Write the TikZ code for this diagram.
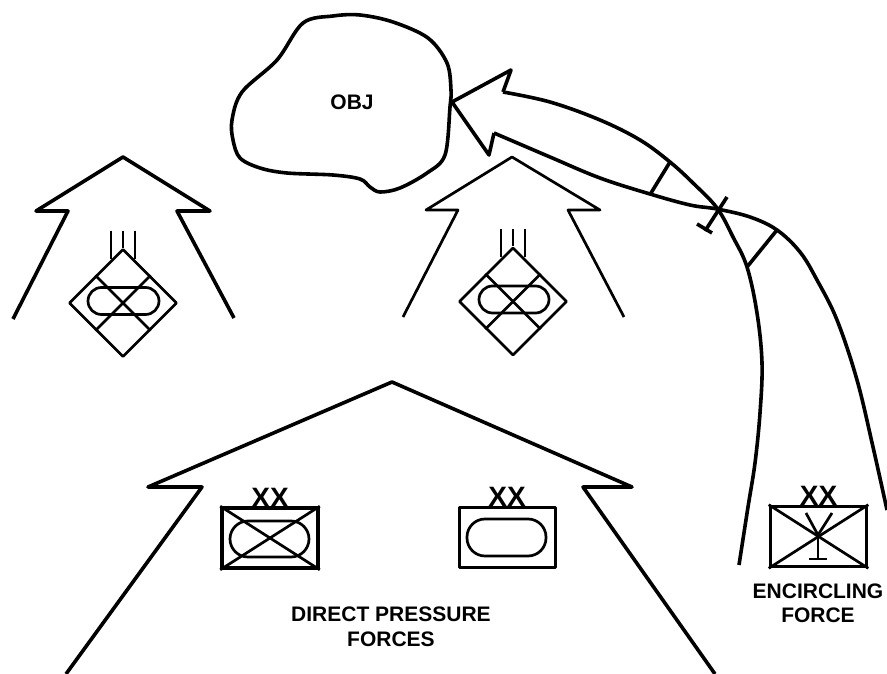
\documentclass[tikz,border=0pt]{standalone}
\usepackage{fontspec}
\setmainfont{Liberation Sans}
\usepackage{tikz}
\usetikzlibrary{calc}
\usetikzlibrary{positioning}
\usetikzlibrary{shapes.geometric}

\begin{document}
\begin{tikzpicture}[x=1pt,y=-1pt,line join=round]
	\tikzstyle{heavy}=[line width=3.6pt]
	\tikzstyle{medium}=[line width=2.7pt]
	\tikzstyle{dia}=[draw,diamond,aspect=1,inner sep=0pt,minimum size=108pt,line width=2.6pt]
	\tikzstyle{unit}=[draw,rectangle,inner sep=0pt,minimum width=96pt,minimum height=60pt,line width=3.6pt]
	\tikzstyle{pill}=[draw,rectangle,inner sep=0pt,line width=2.7pt]
	\tikzstyle{echelon}=[inner sep=0pt,font=\fontsize{28}{28}\selectfont\bfseries]
	\tikzstyle{lab}=[inner sep=0pt,align=center,font=\fontsize{21}{24.5}\selectfont\bfseries]
	\useasboundingbox (0,0) rectangle (887,674);

	% objective
	\draw[heavy] plot[smooth cycle,tension=0.55] coordinates {(303,23) (333,16) (360,15) (393,22) (428,38) (447,63) (451,90) (450,107) (445,155) (427,173) (400,188) (380,192) (370,187) (360,179) (333,175) (287,173) (260,168) (240,158) (233,140) (232,120) (242,92) (277,60)};
	\node[lab] (obj) at (352,102) {OBJ};

	% left brigade
	\draw[heavy] (13,319) -- (68,211) -- (36,211) -- (123,157) -- (210,211) -- (177,211) -- (234,318);
	\node[dia] (dleft) at (123,303) {};
	\node[pill,minimum width=71pt,minimum height=27pt,rounded corners=13.5pt] (pleft) at (123.5,301) {};
	\draw[medium] (dleft.north west) -- (dleft.south east);
	\draw[medium] (dleft.north east) -- (dleft.south west);
	\draw[medium] ($(dleft.north)+(-12,-17)$) -- ($(dleft.north)+(-12,11)$);
	\draw[medium] ($(dleft.north)+(0,-17)$) -- (dleft.north);
	\draw[medium] ($(dleft.north)+(12,-17)$) -- ($(dleft.north)+(12,11)$);

	% centre brigade
	\draw[medium] (403,317) -- (458,210) -- (426,210) -- (512,157) -- (600,210) -- (568,210) -- (624,317);
	\node[dia] (dmid) at (513,301.5) {};
	\node[pill,minimum width=70pt,minimum height=27pt,rounded corners=13.5pt] (pmid) at (514,299.5) {};
	\draw[medium] (dmid.north west) -- (dmid.south east);
	\draw[medium] (dmid.north east) -- (dmid.south west);
	\draw[medium] ($(dmid.north)+(-12,-17)$) -- ($(dmid.north)+(-12,11)$);
	\draw[medium] ($(dmid.north)+(0,-17)$) -- (dmid.north);
	\draw[medium] ($(dmid.north)+(12,-17)$) -- ($(dmid.north)+(12,11)$);

	% direct pressure
	\draw[heavy] (66,674) -- (202,487) -- (148,487) -- (392,382) -- (632,487) -- (583,487) -- (715,674);
	\node[unit] (uleft) at (270,538) {};
	\node[pill,minimum width=79pt,minimum height=36pt,rounded corners=18pt] (pcross) at (269.5,539) {};
	\draw[medium] (uleft.north west) -- (uleft.south east);
	\draw[medium] (uleft.north east) -- (uleft.south west);
	\node[echelon] (xleft) [above=-1pt of uleft] {XX};
	\node[unit,line width=3pt] (uright) at (507,537.5) {};
	\node[pill,minimum width=79pt,minimum height=37pt,rounded corners=18pt] (pright) at (506.5,537.5) {};
	\node[echelon] (xright) [above=-1pt of uright] {XX};
	\node[lab] (direct) at (391,627) {DIRECT PRESSURE\\FORCES};

	% encircling force
	\coordinate (tip) at (452,102);
	\coordinate (upbarb) at (511,70);
	\coordinate (upin) at (503,92);
	\coordinate (lowbarb) at (489,155);
	\coordinate (lowin) at (494,133);
	\draw[heavy] (lowin) -- (lowbarb) -- (tip) -- (upbarb) -- (upin);
	\draw[heavy] plot[smooth,tension=0.6] coordinates {(503,92) (550,102) (600,120) (640,140) (670,162) (693,183) (717,208) (733,237) (747,267) (757,313) (762,363) (760,413) (755,463) (748,507) (739,565)};
	\draw[heavy] plot[smooth,tension=0.6] coordinates {(494,133) (550,157) (600,178) (650,194) (690,205) (717,209) (750,217) (777,230) (800,252) (817,280) (837,320) (857,380) (873,447) (887,510)};
	\coordinate (tickau) at (670,162);
	\coordinate (tickal) at (651,193);
	\coordinate (tickbu) at (777,230);
	\coordinate (tickbl) at (747,267);
	\coordinate (crossu) at (727,197);
	\coordinate (crossl) at (705,231);
	\coordinate (foota) at (697,224);
	\coordinate (footb) at (712,233);
	\draw[heavy] (tickau) -- (tickal);
	\draw[heavy] (tickbu) -- (tickbl);
	\draw[heavy] (crossu) -- (crossl);
	\draw[heavy] (foota) -- (footb);

	\node[unit] (uenc) at (818.5,536.5) {};
	\draw[medium] (uenc.north west) -- (uenc.south east);
	\draw[medium] (uenc.north east) -- (uenc.south west);
	\node[echelon] (xenc) [above=-1pt of uenc] {XX};
	\coordinate (yleft) at (806,513);
	\coordinate (yright) at (832,513);
	\coordinate (ymid) at (818,535);
	\coordinate (ybase) at (818,559);
	\coordinate (baseleft) at (809,559);
	\coordinate (baseright) at (827,559);
	\draw[medium] (yleft) -- (ymid);
	\draw[medium] (yright) -- (ymid);
	\draw[medium] (ymid) -- (ybase);
	\draw[medium] (baseleft) -- (baseright);
	\node[lab] (encircle) at (818,603.5) {ENCIRCLING\\FORCE};
\end{tikzpicture}
\end{document}
